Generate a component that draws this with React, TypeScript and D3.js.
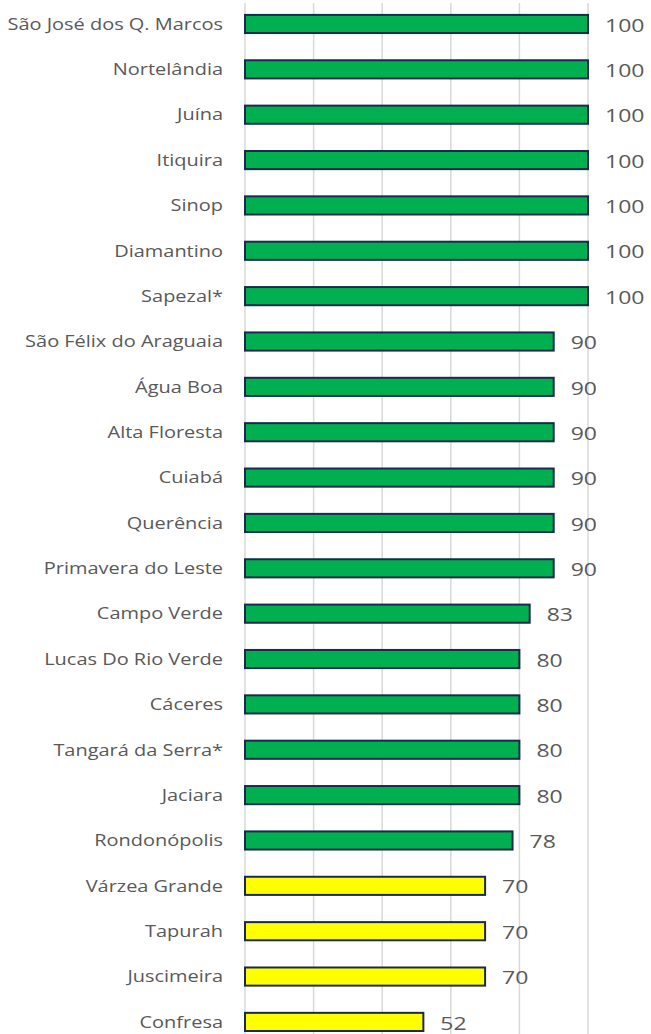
import React, { useEffect, useRef } from "react";
import * as d3 from "d3";

// Municipalities and their scores (0-100)
const NAMES = [
  "São José dos Q. Marcos", "Nortelândia", "Juína", "Itiquira", "Sinop",
  "Diamantino", "Sapezal*", "São Félix do Araguaia", "Água Boa", "Alta Floresta",
  "Cuiabá", "Querência", "Primavera do Leste", "Campo Verde", "Lucas Do Rio Verde",
  "Cáceres", "Tangará da Serra*", "Jaciara", "Rondonópolis", "Várzea Grande",
  "Tapurah", "Juscimeira", "Confresa",
];
const VALUES = [100, 100, 100, 100, 100, 100, 100, 90, 90, 90, 90, 90, 90, 83, 80, 80, 80, 80, 78, 70, 70, 70, 52];
const X_TICKS = [0, 20, 40, 60, 80, 100];

export default function App() {
  const svgRef = useRef<SVGSVGElement>(null);

  useEffect(() => {
    const width = 651;
    const height = 1034;
    const textColor = "#595959";
    const gridColor = "#d9d9d9";
    const stretch = 1.21; // the source image is horizontally stretched

    const svg = d3.select(svgRef.current);
    svg.selectAll("*").remove();

    const x = d3.scaleLinear().domain([0, 100]).range([245, 588]);
    const y = d3.scaleBand<string>()
      .domain(NAMES)
      .range([1.3, 1044.6])
      .paddingInner(0.6)
      .paddingOuter(0.3);

    // Vertical gridlines
    svg.append("g")
      .selectAll("line")
      .data(X_TICKS)
      .join("line")
      .attr("x1", d => x(d)).attr("x2", d => x(d))
      .attr("y1", 3).attr("y2", height)
      .attr("stroke", gridColor).attr("stroke-width", 1.5);

    const data = NAMES.map((n, i) => ({ name: n, value: VALUES[i] }));

    // Bars
    svg.append("g")
      .selectAll("rect")
      .data(data)
      .join("rect")
      .attr("x", x(0))
      .attr("y", d => y(d.name)!)
      .attr("width", d => x(d.value) - x(0))
      .attr("height", y.bandwidth())
      .attr("fill", d => d.value >= 75 ? "#00b050" : "#ffff00")
      .attr("stroke", "#1a2a4a")
      .attr("stroke-width", 2);

    // Category labels
    svg.append("g")
      .selectAll("text")
      .data(data)
      .join("text")
      .attr("transform", d => `translate(223,${y(d.name)! + y.bandwidth() / 2}) scale(${stretch},1)`)
      .attr("dy", "0.35em")
      .attr("text-anchor", "end")
      .attr("fill", textColor)
      .style("font-family", "'Open Sans', sans-serif")
      .style("font-size", "16.5px")
      .text(d => d.name);

    // Value labels
    svg.append("g")
      .selectAll("text")
      .data(data)
      .join("text")
      .attr("transform", d => `translate(${x(d.value) + 17},${y(d.name)! + y.bandwidth() / 2 + 1}) scale(${stretch},1)`)
      .attr("dy", "0.35em")
      .attr("fill", textColor)
      .style("font-family", "'Open Sans', sans-serif")
      .style("font-size", "19px")
      .text(d => d.value);

    svg.attr("width", width).attr("height", height);
  }, []);

  return (
    <div style={{ position: "absolute", left: 0, top: 0, background: "#fff" }}>
      <svg ref={svgRef} style={{ display: "block" }} />
    </div>
  );
}
